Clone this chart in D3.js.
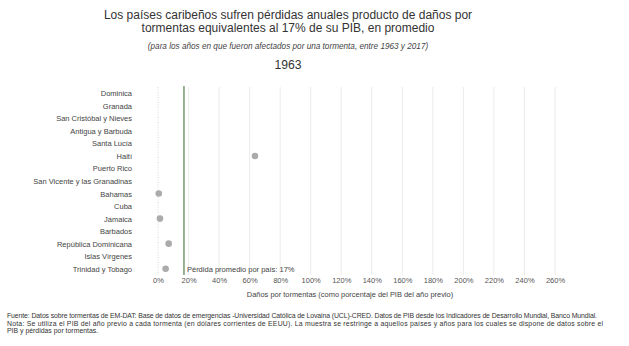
<!DOCTYPE html>
<html><head><meta charset="utf-8">
<script src="https://cdn.jsdelivr.net/npm/d3@7"></script>
<style>
body{margin:0;background:#fff;}
text{font-family:"Liberation Sans",Arial,Helvetica,sans-serif;}
</style></head>
<body><svg id="c" width="629" height="346"></svg>
<script>
const countries = ["Dominica","Granada","San Cristóbal y Nieves","Antigua y Barbuda","Santa Lucía","Haití","Puerto Rico","San Vicente y las Granadinas","Bahamas","Cuba","Jamaica","Barbados","República Dominicana","Islas Vírgenes","Trinidad y Tobago"];
// damage as % of previous-year GDP in 1963 (null = no storm)
const losses = [null,null,null,null,null,63.5,null,null,0.5,null,1.3,null,7.0,null,5.0];
const xTicks = [0,20,40,60,80,100,120,140,160,180,200,220,240,260];
const average = 17;
const year = "1963";
const titleLines = ["Los países caribeños sufren pérdidas anuales producto de daños por","tormentas equivalentes al 17% de su PIB, en promedio"];
const subtitle = "(para los años en que fueron afectados por una tormenta, entre 1963 y 2017)";
const xTitle = "Daños por tormentas (como porcentaje del PIB del año previo)";
const avgLabel = "Pérdida promedio por país: 17%";
const footer = ["Fuente: Datos sobre tormentas de EM-DAT: Base de datos de emergencias -Universidad Católica de Lovaina (UCL)-CRED. Datos de PIB desde los Indicadores de Desarrollo Mundial, Banco Mundial.",
"Nota: Se utiliza el PIB del año previo a cada tormenta (en dólares corrientes de EEUU). La muestra se restringe a aquellos países y años para los cuales se dispone de datos sobre el",
"PIB y pérdidas por tormentas."];

(function(){
const svg = d3.select("#c");
const pTop = 87, pBottom = 275;
const x = d3.scaleLinear().domain([0,260]).range([158,555]);
const y = d3.scalePoint().domain(countries).range([pTop,pBottom]).padding(0.5);

// titles
svg.append("text").attr("text-anchor","middle").attr("fill","#333").attr("font-size",12)
  .selectAll("tspan").data(titleLines).join("tspan").attr("x",288).attr("y",(d,i)=>19+i*12.6).text(d=>d);
svg.append("text").attr("x",288).attr("y",49).attr("text-anchor","middle").attr("fill","#444")
  .attr("font-size",8.2).attr("font-style","italic").text(subtitle);
svg.append("text").attr("x",288).attr("y",69).attr("text-anchor","middle").attr("fill","#333")
  .attr("font-size",12.2).text(year);

// grid
const g = svg.append("g");
g.selectAll("line.grid").data(xTicks.filter(d=>d>0)).join("line").attr("class","grid")
  .attr("x1",d=>x(d)).attr("x2",d=>x(d)).attr("y1",pTop).attr("y2",pBottom)
  .attr("stroke","#ebebeb").attr("stroke-width",1);
g.append("line").attr("x1",x(0)).attr("x2",x(0)).attr("y1",pTop).attr("y2",pBottom)
  .attr("stroke","#d8d8d8").attr("stroke-dasharray","1,1.5");

// x axis
const xAxis = d3.axisBottom(x).tickValues(xTicks).tickFormat(d=>d+"%").tickSize(0).tickPadding(0);
const ax = svg.append("g").attr("transform",`translate(0,${pBottom+1})`).call(xAxis);
ax.select(".domain").remove();
ax.selectAll("text").attr("font-size",7.5).attr("fill","#555").attr("dy",0).attr("y",6.5)
  .attr("font-family","Liberation Sans, Arial, sans-serif");

svg.append("text").attr("x",350).attr("y",297).attr("text-anchor","middle").attr("fill","#444")
  .attr("font-size",7.45).text(xTitle);

// y axis labels
const yAxis = d3.axisLeft(y).tickSize(0).tickPadding(0);
const ay = svg.append("g").attr("transform","translate(132,0)").call(yAxis);
ay.select(".domain").remove();
ay.selectAll("text").attr("font-size",7.5).attr("fill","#444").attr("dy","0.33em")
  .attr("font-family","Liberation Sans, Arial, sans-serif");

// average line
svg.append("line").attr("x1",x(average)).attr("x2",x(average)).attr("y1",pTop-1).attr("y2",pBottom)
  .attr("stroke","#7f9f78").attr("stroke-width",1.6);
svg.append("text").attr("x",x(average)+3).attr("y",272).attr("fill","#444").attr("font-size",7.5).text(avgLabel);

// points
const pts = countries.map((c,i)=>({c,v:losses[i]})).filter(d=>d.v!==null);
svg.selectAll("circle").data(pts).join("circle")
  .attr("cx",d=>x(d.v)).attr("cy",d=>y(d.c)).attr("r",3.3).attr("fill","#ababab");

// footer
const footLens = [590, 596, null];
const ft = svg.append("text").attr("fill","#333").attr("font-size",6.9);
ft.selectAll("tspan").data(footer).join("tspan").attr("x",7).attr("y",(d,i)=>318+i*7.7)
  .each(function(d,i){ if(footLens[i]) d3.select(this).attr("textLength",footLens[i]).attr("lengthAdjust","spacing"); })
  .text(d=>d);
})();
</script></body></html>
